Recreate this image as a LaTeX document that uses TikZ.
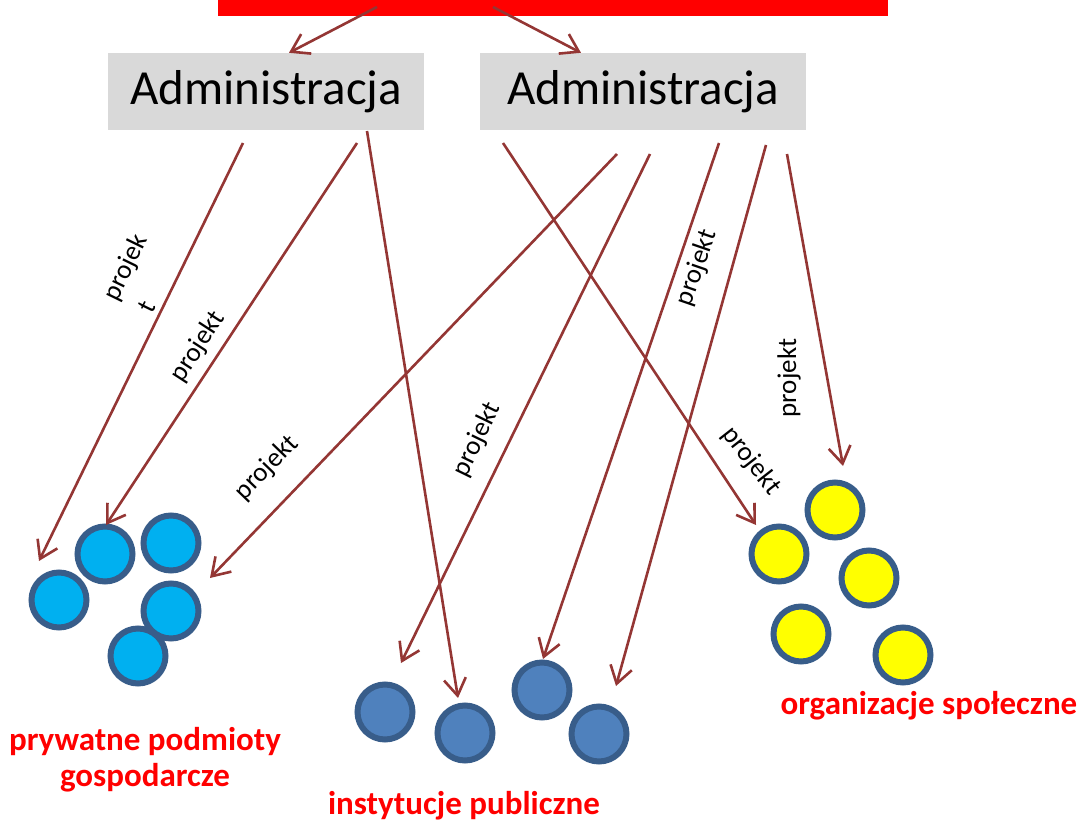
\documentclass[tikz,border=0pt]{standalone}
\usepackage{fontspec}
\setmainfont{Carlito}
\usetikzlibrary{arrows.meta}
\definecolor{barred}{HTML}{FF0000}
\definecolor{boxgray}{HTML}{D9D9D9}
\definecolor{arrowred}{HTML}{943634}
\definecolor{ringblue}{HTML}{385D8A}
\definecolor{lightblue}{HTML}{00B0F0}
\definecolor{midblue}{HTML}{4F81BD}
\definecolor{dotyellow}{HTML}{FFFF00}
\definecolor{labelred}{HTML}{FF0000}
\tikzset{
  adminbox/.style={fill=boxgray, draw=none, minimum height=77pt, inner sep=0pt, font=\fontsize{49}{54}\selectfont},
  dot/.style={circle, draw=ringblue, line width=6pt, minimum size=55pt, inner sep=0pt},
  dotA/.style={dot, fill=lightblue},
  dotB/.style={dot, fill=midblue},
  dotC/.style={dot, fill=dotyellow},
  link/.style={draw=arrowred, line width=2.6pt, -{Straight Barb[length=17pt,width=22pt]}},
  plabel/.style={font=\fontsize{27}{27}\selectfont, inner sep=1pt},
  grouplabel/.style={text=labelred, font=\bfseries\fontsize{33}{36}\selectfont, align=center}
}
\begin{document}
\begin{tikzpicture}[x=1pt,y=-1pt]
\useasboundingbox (0,0) rectangle (1077,824);
% top bar
\node[fill=barred, minimum width=670pt, minimum height=22pt, inner sep=0pt] (top) at (553,5) {};
% admin boxes
\node[adminbox, minimum width=316pt] (adm1) at (266,91.5) {Administracja};
\node[adminbox, minimum width=326pt] (adm2) at (643,91.5) {Administracja};
% top arrows
\coordinate (t1) at (377,7);
\coordinate (t2) at (493,7);
\draw[link] (t1) -- (adm1.north -| 289,0);
\draw[link] (t2) -- (adm2.north -| 581,0);
% circles: prywatne
\node[dotA] (pA) at (59,600) {};
\node[dotA] (pB) at (105,554) {};
\node[dotA] (pC) at (171,543) {};
\node[dotA] (pD) at (171,611) {};
\node[dotA] (pE) at (138,656) {};
% instytucje
\node[dotB] (iA) at (385,712) {};
\node[dotB] (iB) at (465,733) {};
\node[dotB] (iC) at (542,690) {};
\node[dotB] (iD) at (599,734) {};
% organizacje
\node[dotC] (oA) at (835,510) {};
\node[dotC] (oB) at (779,554) {};
\node[dotC] (oC) at (869,578) {};
\node[dotC] (oD) at (801,634) {};
\node[dotC] (oE) at (903,655) {};
% start and end coordinates
\coordinate (s1) at (243,143);
\coordinate (s2) at (357,143);
\coordinate (s3) at (367,131);
\coordinate (s4) at (503,143);
\coordinate (s5) at (617,154);
\coordinate (s6) at (650,154);
\coordinate (s7) at (719,143);
\coordinate (s8) at (766,145);
\coordinate (s9) at (787,154);
\coordinate (e1) at (39,561);
\coordinate (e2) at (106,525);
\coordinate (e3) at (458,698);
\coordinate (e4) at (756,525);
\coordinate (e5) at (210,578);
\coordinate (e6) at (401,663);
\coordinate (e7) at (543,659);
\coordinate (e8) at (616,686);
\coordinate (e9) at (843,466);
\foreach \i in {1,...,9} { \draw[link] (s\i) -- (e\i); }
% labels
\node[plabel, rotate=64] (l1a) at (126,268) {projek};
\node[plabel, rotate=64] (l1b) at (147,307) {t};
\node[plabel, rotate=57] (l2) at (198,347) {projekt};
\node[plabel, rotate=46] (l5) at (267,468) {projekt};
\node[plabel, rotate=64] (l6) at (477,440) {projekt};
\node[plabel, rotate=71] (l7) at (697,268) {projekt};
\node[plabel, rotate=90] (l9) at (789,378) {projekt};
\node[plabel, rotate=-52] (l4) at (751,461) {projekt};
% group labels
\node[grouplabel] (gP) at (145,760) {prywatne podmioty\\gospodarcze};
\node[grouplabel] (gI) at (464,806) {instytucje publiczne};
\node[grouplabel] (gO) at (929,706) {organizacje społeczne};
\end{tikzpicture}
\end{document}
